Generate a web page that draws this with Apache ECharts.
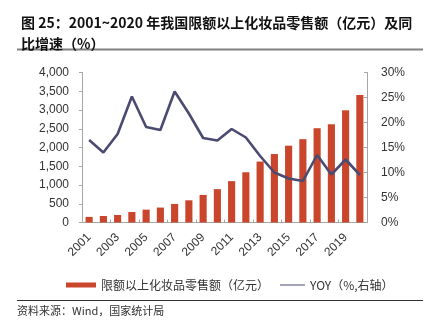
<!DOCTYPE html>
<html>
<head>
<meta charset="utf-8">
<script src="https://cdn.jsdelivr.net/npm/echarts@6/dist/echarts.min.js"></script>
<style>
  html, body { margin: 0; padding: 0; background: #fff; }
  #chart { width: 429px; height: 324px; }
</style>
</head>
<body>
<div id="chart"></div>
<script>
// Years on the category axis
const years = ['2001','2002','2003','2004','2005','2006','2007','2008','2009','2010',
               '2011','2012','2013','2014','2015','2016','2017','2018','2019','2020'];
// Retail sales of cosmetics above designated size (100 million yuan)
const salesValues = [150, 173, 200, 280, 343, 398, 495, 592, 735, 889,
                     1103, 1340, 1625, 1825, 2049, 2222, 2514, 2619, 2992, 3400];
// Year-on-year growth (%)
const yoyValues = [16.5, 14.0, 17.7, 25.2, 19.1, 18.5, 26.2, 21.8, 16.9, 16.4,
                   18.7, 17.0, 13.3, 10.0, 8.8, 8.3, 13.5, 9.6, 12.6, 9.5];
// Tick labels of the two value axes
const leftTicks = [0, 500, 1000, 1500, 2000, 2500, 3000, 3500, 4000];
const rightTicks = [0, 5, 10, 15, 20, 25, 30];

const barName = '限额以上化妆品零售额（亿元）';
const lineName = 'YOY（%,右轴）';
const barColor = '#C9452B';
const lineColor = '#4B4B72';
const textColor = '#333';
const axisGray = '#A6A6A6';
const numFont = '"Liberation Sans", Arial, sans-serif';
const cjkFont = '"Noto Sans CJK SC", sans-serif';

const chart = echarts.init(document.getElementById('chart'), null, { renderer: 'canvas' });

chart.setOption({
  animation: false,
  backgroundColor: '#fff',
  title: {
    text: '图 25：2001~2020 年我国限额以上化妆品零售额（亿元）及同\n比增速（%）',
    left: 16,
    top: 7,
    textStyle: {
      fontFamily: cjkFont,
      fontSize: 14,
      fontWeight: 'bold',
      color: '#111',
      lineHeight: 21
    }
  },
  graphic: [
    { type: 'line', shape: { x1: 17, y1: 49.5, x2: 423, y2: 49.5 },
      style: { stroke: '#808080', lineWidth: 2 } },
    { type: 'line', shape: { x1: 17, y1: 300.5, x2: 423, y2: 300.5 },
      style: { stroke: '#333', lineWidth: 1 } },
    { type: 'text', left: 17, top: 305,
      style: { text: '资料来源：Wind，国家统计局', fontFamily: cjkFont, fontSize: 11, fill: textColor } }
  ],
  legend: [
    {
      data: [{ name: barName, icon: 'rect' }],
      left: 61, top: 274,
      itemWidth: 30, itemHeight: 5, itemGap: 6,
      textStyle: { fontFamily: cjkFont, fontSize: 12, color: textColor }
    },
    {
      data: [{ name: lineName, icon: 'rect' }],
      left: 275, top: 274,
      itemWidth: 25, itemHeight: 1, itemGap: 4,
      textStyle: { fontFamily: cjkFont, fontSize: 12, color: textColor }
    }
  ],
  grid: { left: 82, right: 62, top: 72.5, bottom: 101.5, containLabel: false },
  xAxis: {
    type: 'category',
    data: years,
    boundaryGap: true,
    axisLine: { lineStyle: { color: axisGray, width: 1 } },
    axisTick: { show: true, inside: true, length: 3, interval: 1, lineStyle: { color: axisGray } },
    axisLabel: {
      interval: 1, rotate: 45, margin: 13,
      fontFamily: numFont, fontSize: 12, color: textColor
    },
    splitLine: { show: false }
  },
  yAxis: [
    {
      type: 'value',
      min: leftTicks[0], max: leftTicks[leftTicks.length - 1], interval: 500,
      axisLine: { show: true, lineStyle: { color: axisGray } },
      axisTick: { show: true, length: 3, lineStyle: { color: axisGray } },
      axisLabel: {
        margin: 13, fontFamily: numFont, fontSize: 12, color: textColor,
        formatter: v => v.toLocaleString('en-US')
      },
      splitLine: { show: false }
    },
    {
      type: 'value',
      min: rightTicks[0], max: rightTicks[rightTicks.length - 1], interval: 5,
      position: 'right',
      axisLine: { show: true, lineStyle: { color: axisGray } },
      axisTick: { show: true, inside: true, length: 3, lineStyle: { color: axisGray } },
      axisLabel: {
        margin: 14, fontFamily: numFont, fontSize: 12, color: textColor,
        formatter: v => v + '%'
      },
      splitLine: { show: false }
    }
  ],
  series: [
    {
      name: barName,
      type: 'bar',
      yAxisIndex: 0,
      data: salesValues,
      barWidth: '50%',
      itemStyle: { color: barColor }
    },
    {
      name: lineName,
      type: 'line',
      yAxisIndex: 1,
      data: yoyValues,
      showSymbol: false,
      symbol: 'none',
      lineStyle: { color: lineColor, width: 2.6 },
      itemStyle: { color: lineColor }
    }
  ]
});
</script>
</body>
</html>
